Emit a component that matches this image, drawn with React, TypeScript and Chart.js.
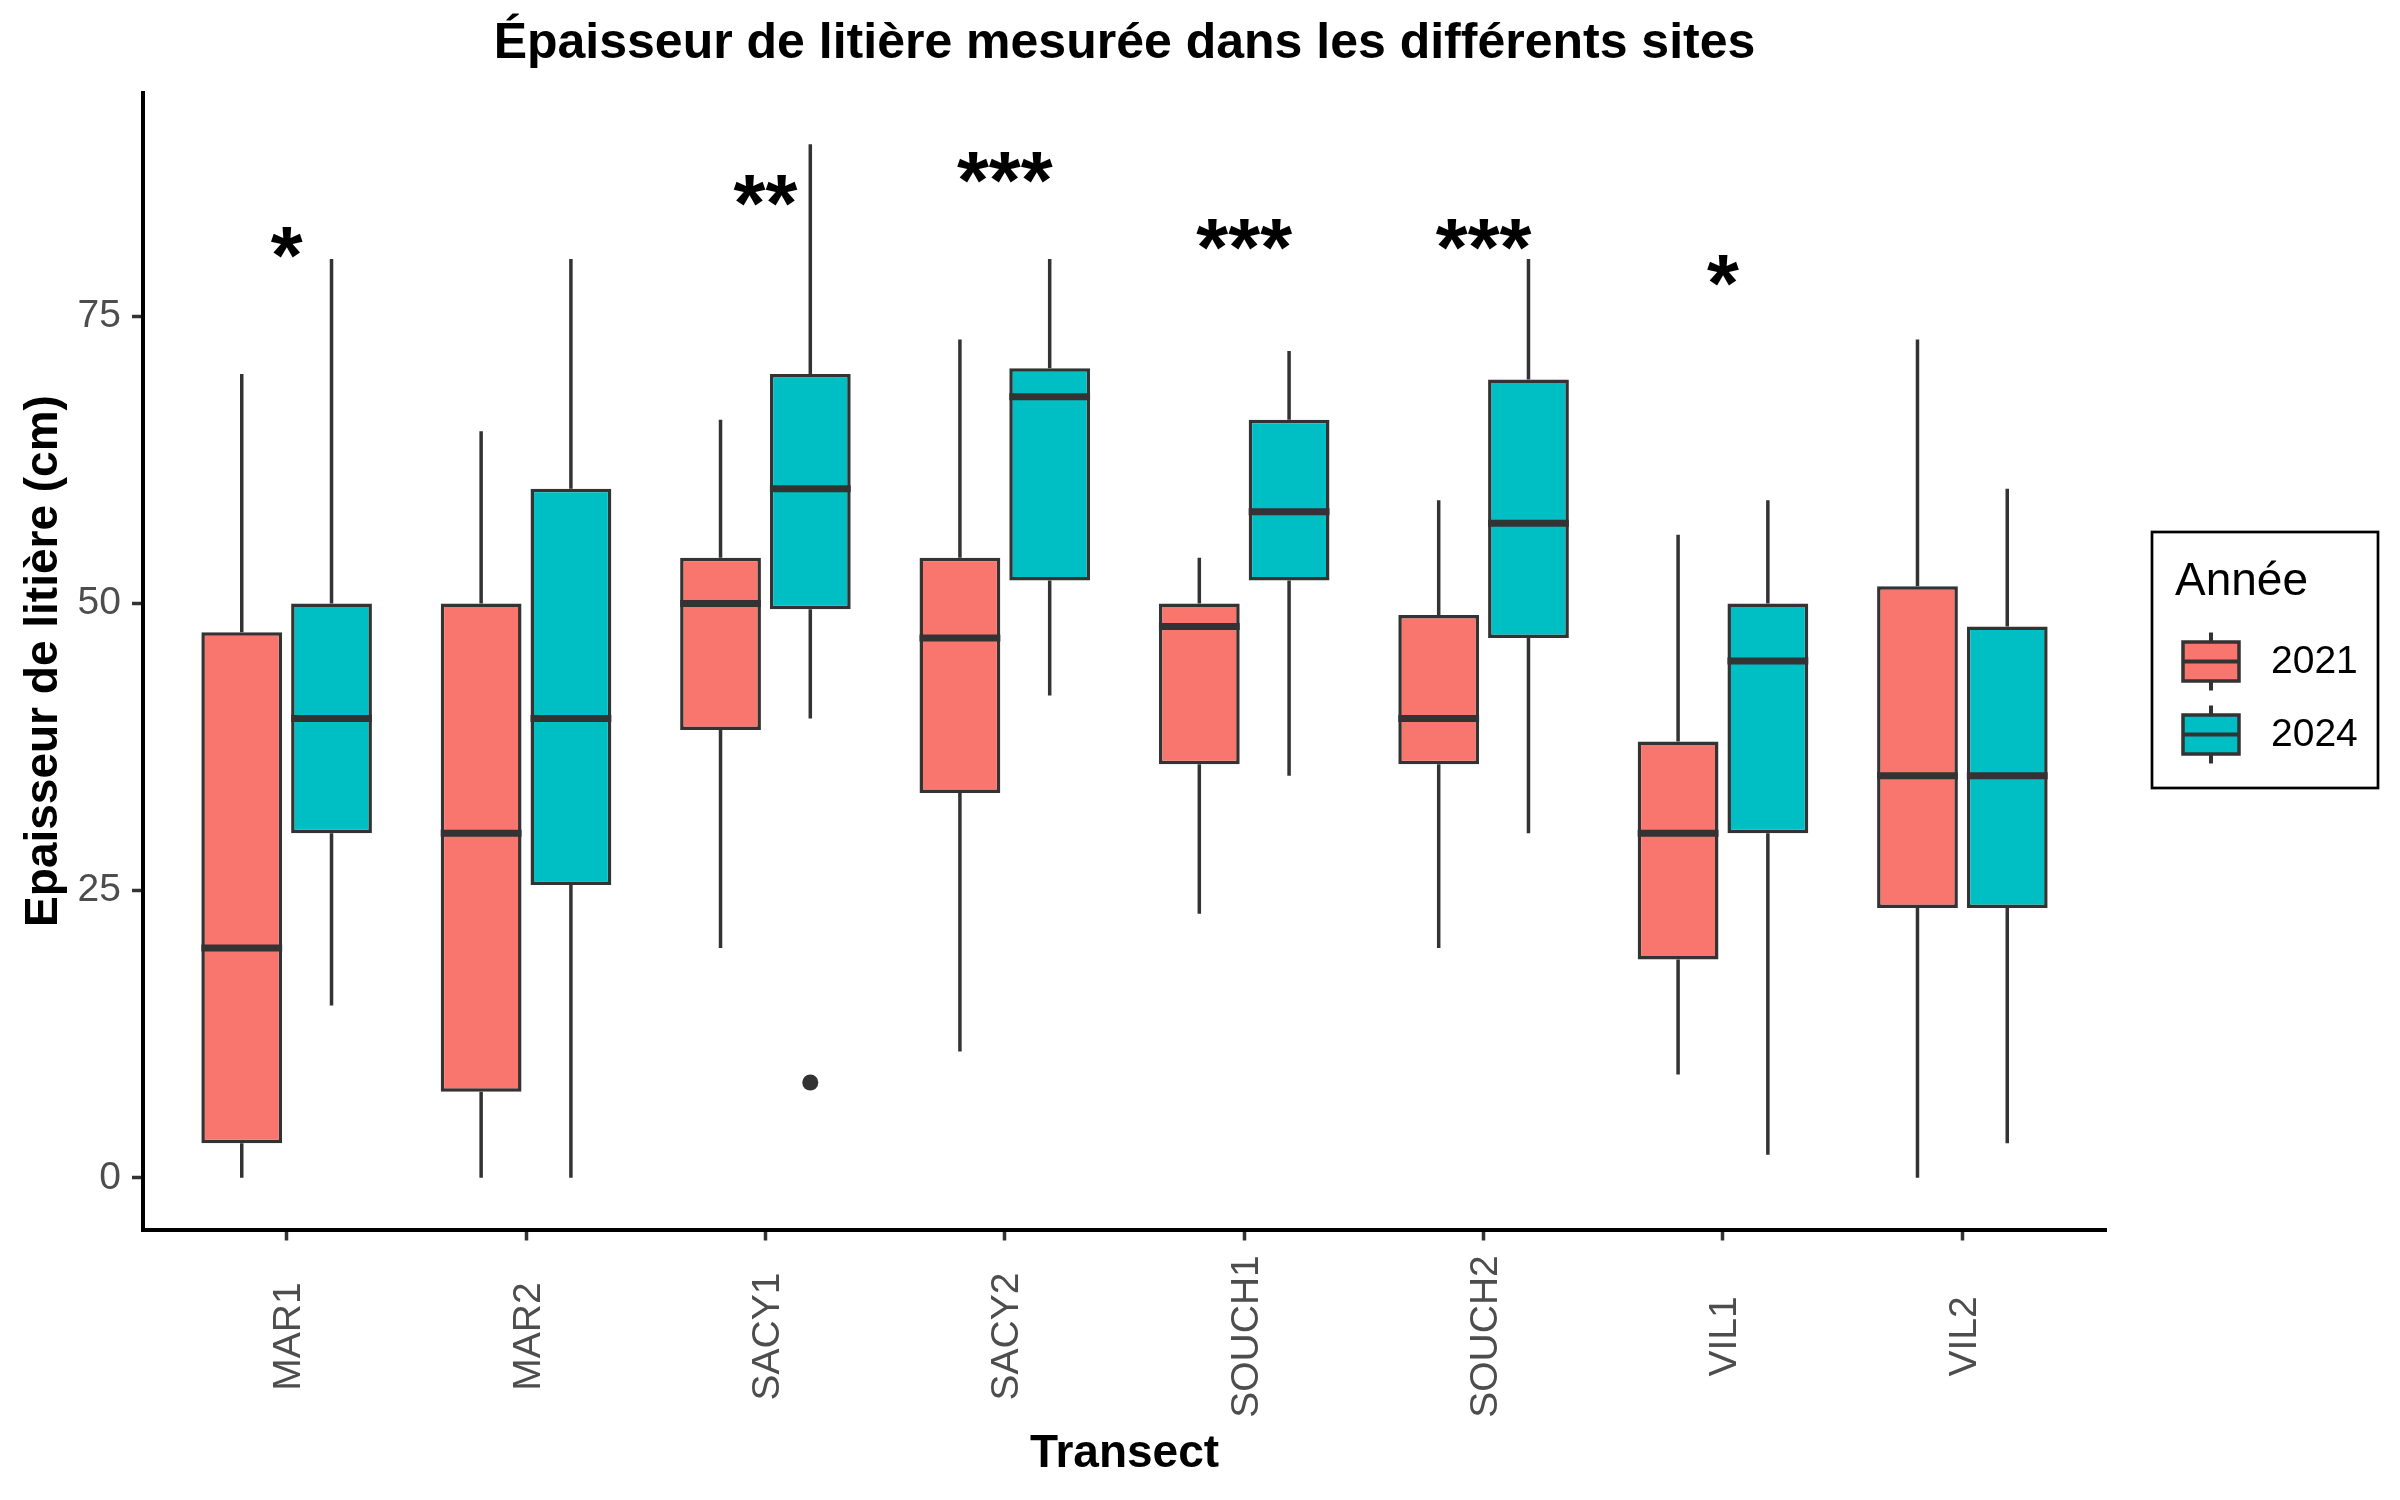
import React, { useEffect, useRef } from 'react';
import { Chart, registerables } from 'chart.js';

Chart.register(...registerables);

// ---------- data ----------
const sites = ['MAR1', 'MAR2', 'SACY1', 'SACY2', 'SOUCH1', 'SOUCH2', 'VIL1', 'VIL2'];
const years = ['2021', '2024'];
const yearColors = ['#F8766D', '#00BFC4'];

const low2021 = [0, 0, 20, 11, 23, 20, 9, 0];
const q1_2021 = [3, 7.5, 39, 33.5, 36, 36, 19, 23.5];
const med2021 = [20, 30, 50, 47, 48, 40, 30, 35];
const q3_2021 = [47.5, 50, 54, 54, 50, 49, 38, 51.5];
const high2021 = [70, 65, 66, 73, 54, 59, 56, 73];

const low2024 = [15, 0, 40, 42, 35, 30, 2, 3];
const q1_2024 = [30, 25.5, 49.5, 52, 52, 47, 30, 23.5];
const med2024 = [40, 40, 60, 68, 58, 57, 45, 35];
const q3_2024 = [50, 60, 70, 70.5, 66, 69.5, 50, 48];
const high2024 = [80, 80, 90, 80, 72, 80, 59, 60];

const outlierSite = ['SACY1'];
const outlierYear = ['2024'];
const outlierValue = [8.3];

const signifLabels = ['*', '', '**', '***', '***', '***', '*', ''];
const signifY = [81.4, null, 86, 88, 82.1, 82.1, 79, null];

const yTicks = [0, 25, 50, 75];

const lows = [low2021, low2024];
const q1s = [q1_2021, q1_2024];
const meds = [med2021, med2024];
const q3s = [q3_2021, q3_2024];
const highs = [high2021, high2024];

// ---------- style ----------
const FONT = "'Liberation Sans', Arial, sans-serif";
const LINE = '#333333';
const DODGE = 0.75;

const boxPlugin = {
  id: 'boxParts',
  beforeDatasetsDraw(chart: any) {
    const ctx = chart.ctx;
    const ys = chart.scales.y;
    ctx.save();
    ctx.strokeStyle = LINE;
    ctx.lineWidth = 3.5;
    ctx.lineCap = 'butt';
    for (let d = 0; d < years.length; d++) {
      const meta = chart.getDatasetMeta(d);
      meta.data.forEach((el: any, i: number) => {
        const { x } = el.getProps(['x'], true);
        ctx.beginPath();
        ctx.moveTo(x, ys.getPixelForValue(lows[d][i]));
        ctx.lineTo(x, ys.getPixelForValue(q1s[d][i]));
        ctx.moveTo(x, ys.getPixelForValue(q3s[d][i]));
        ctx.lineTo(x, ys.getPixelForValue(highs[d][i]));
        ctx.stroke();
      });
    }
    ctx.restore();
  },
  afterDatasetsDraw(chart: any) {
    const ctx = chart.ctx;
    const xs = chart.scales.x;
    const ys = chart.scales.y;
    ctx.save();
    ctx.strokeStyle = LINE;
    ctx.lineWidth = 7;
    for (let d = 0; d < years.length; d++) {
      const meta = chart.getDatasetMeta(d);
      meta.data.forEach((el: any, i: number) => {
        const { x, width } = el.getProps(['x', 'width'], true);
        const y = ys.getPixelForValue(meds[d][i]);
        ctx.beginPath();
        ctx.moveTo(x - width / 2, y);
        ctx.lineTo(x + width / 2, y);
        ctx.stroke();
      });
    }
    // significance stars
    ctx.fillStyle = '#000';
    ctx.font = `bold 82px ${FONT}`;
    ctx.textAlign = 'center';
    ctx.textBaseline = 'alphabetic';
    signifLabels.forEach((lab, i) => {
      const v = signifY[i];
      if (!lab || v === null) return;
      const m = ctx.measureText(lab);
      const px = xs.getPixelForValue(i + 1);
      const py = ys.getPixelForValue(v);
      ctx.fillText(lab, px, py + (m.actualBoundingBoxAscent - m.actualBoundingBoxDescent) / 2);
    });
    ctx.restore();
  },
  afterDraw(chart: any) {
    const ctx = chart.ctx;
    const xs = chart.scales.x;
    const area = chart.chartArea;
    ctx.save();
    // x tick labels, rotated and centred
    ctx.fillStyle = '#4D4D4D';
    ctx.font = `39px ${FONT}`;
    ctx.textAlign = 'center';
    ctx.textBaseline = 'alphabetic';
    sites.forEach((s, i) => {
      const px = xs.getPixelForValue(i + 1);
      const m = ctx.measureText(s);
      ctx.save();
      ctx.translate(px, area.bottom + 107);
      ctx.rotate(-Math.PI / 2);
      ctx.fillText(s, 0, (m.actualBoundingBoxAscent - m.actualBoundingBoxDescent) / 2);
      ctx.restore();
    });

    // legend
    const lx = area.right + 46;
    const ly = 532;
    ctx.strokeStyle = '#000';
    ctx.lineWidth = 2.7;
    ctx.strokeRect(lx, ly, 226, 256);
    ctx.fillStyle = '#000';
    ctx.font = `46px ${FONT}`;
    ctx.textAlign = 'left';
    ctx.textBaseline = 'alphabetic';
    ctx.fillText('Année', lx + 23, ly + 63);
    years.forEach((yr, k) => {
      const cy = ly + 129.5 + k * 73;
      const cx = lx + 59;
      ctx.strokeStyle = LINE;
      ctx.lineWidth = 4;
      ctx.beginPath();
      ctx.moveTo(cx, cy - 29);
      ctx.lineTo(cx, cy + 29);
      ctx.stroke();
      ctx.fillStyle = yearColors[k];
      ctx.fillRect(cx - 28, cy - 19.5, 56, 39);
      ctx.lineWidth = 3.5;
      ctx.strokeRect(cx - 28, cy - 19.5, 56, 39);
      ctx.lineWidth = 4;
      ctx.beginPath();
      ctx.moveTo(cx - 28, cy);
      ctx.lineTo(cx + 28, cy);
      ctx.stroke();
      ctx.fillStyle = '#000';
      ctx.font = `39px ${FONT}`;
      ctx.textBaseline = 'middle';
      ctx.fillText(yr, lx + 119, cy + 1);
    });
    ctx.restore();
  },
};

export default function App() {
  const ref = useRef<HTMLCanvasElement>(null);

  useEffect(() => {
    if (!ref.current) return;
    Chart.defaults.font.family = FONT;

    const barSets = years.map((yr, d) => ({
      type: 'bar' as const,
      label: yr,
      data: sites.map((_, i) => ({ x: i + 1, y: [q1s[d][i], q3s[d][i]] })),
      backgroundColor: yearColors[d],
      borderColor: LINE,
      borderWidth: 3.5,
      borderSkipped: false,
      inflateAmount: 0,
      categoryPercentage: DODGE,
      barPercentage: 0.9,
    }));

    const outlierSet = {
      type: 'scatter' as const,
      label: 'outliers',
      data: outlierValue.map((v, k) => ({
        x: sites.indexOf(outlierSite[k]) + 1 + (years.indexOf(outlierYear[k]) - 0.5) * (DODGE / 2),
        y: v,
      })),
      backgroundColor: LINE,
      borderWidth: 0,
      pointRadius: 8,
    };

    const chart = new Chart(ref.current, {
      type: 'bar',
      data: { datasets: [...barSets, outlierSet] as any },
      options: {
        responsive: false,
        animation: false,
        devicePixelRatio: 1,
        events: [],
        layout: { padding: { top: 0, right: 294, bottom: 0, left: 0 } },
        plugins: {
          legend: { display: false },
          tooltip: { enabled: false },
          title: {
            display: true,
            text: 'Épaisseur de litière mesurée dans les différents sites',
            color: '#000',
            font: { size: 50, weight: 'bold', family: FONT },
            padding: { top: 14, bottom: 18.5 },
            fullSize: false,
          },
        },
        scales: {
          x: {
            type: 'linear',
            min: 0.4,
            max: 8.6,
            offset: false,
            afterFit: (s: any) => {
              s.height = 270.5;
            },
            ticks: {
              display: false,
              stepSize: 1,
              includeBounds: false,
              callback: (v: any) => sites[Number(v) - 1] ?? '',
            },
            grid: {
              offset: false,
              drawOnChartArea: false,
              drawTicks: true,
              tickLength: 11,
              color: LINE,
              tickColor: LINE,
              tickWidth: 3.5,
            },
            border: { display: true, color: '#000', width: 4 },
            title: {
              display: true,
              text: 'Transect',
              color: '#000',
              font: { size: 46, weight: 'bold', family: FONT },
              padding: { top: 0, bottom: 18.4 },
            },
          },
          y: {
            type: 'linear',
            min: -4.5,
            max: 94.5,
            afterFit: (s: any) => {
              s.width = 143;
            },
            afterBuildTicks: (s: any) => {
              s.ticks = yTicks.map((v) => ({ value: v }));
            },
            ticks: {
              color: '#4D4D4D',
              font: { size: 39, family: FONT },
              padding: 11,
            },
            grid: {
              drawOnChartArea: false,
              drawTicks: true,
              tickLength: 11,
              color: LINE,
              tickColor: LINE,
              tickWidth: 3.5,
            },
            border: { display: true, color: '#000', width: 4 },
            title: {
              display: true,
              text: 'Epaisseur de litière (cm)',
              color: '#000',
              font: { size: 46, weight: 'bold', family: FONT },
              padding: { top: 16.4, bottom: 0 },
            },
          },
        },
      },
      plugins: [boxPlugin],
    } as any);

    return () => chart.destroy();
  }, []);

  return (
    <div style={{ position: 'absolute', left: 0, top: 0, width: 2400, height: 1500, background: '#fff' }}>
      <canvas ref={ref} width={2400} height={1500} style={{ width: 2400, height: 1500, display: 'block' }} />
    </div>
  );
}
